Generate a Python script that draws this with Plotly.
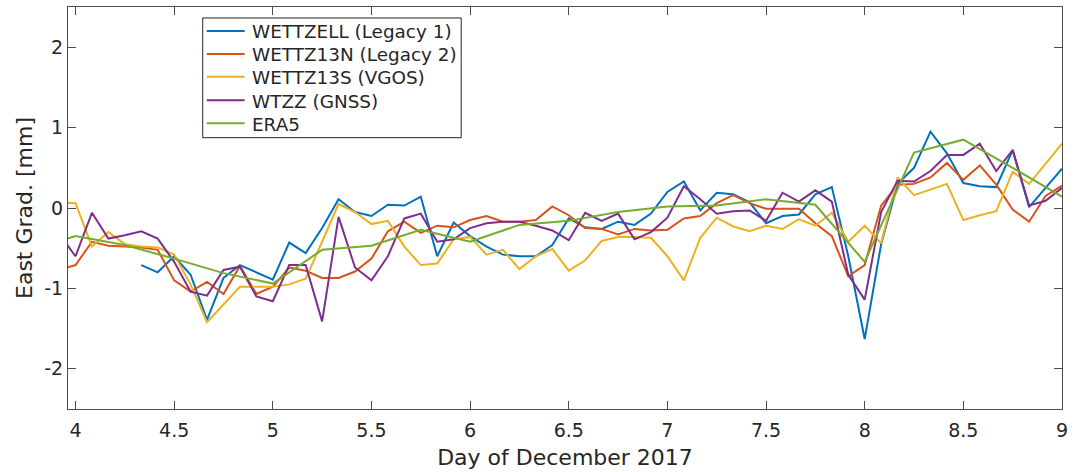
import plotly.graph_objects as go

# hours since 4 Dec 2017 00:00 (2-hourly solutions)
hours = list(range(-2, 121, 2))
hours_wettzell = list(range(8, 121, 2))
hours_era5 = list(range(-6, 121, 6))

wettzell = [-0.71, -0.80, -0.60, -0.83, -1.39, -0.87, -0.71, -0.80, -0.89, -0.43,
            -0.56, -0.25, 0.11, -0.05, -0.10, 0.04, 0.03, 0.14, -0.60, -0.18,
            -0.35, -0.48, -0.58, -0.60, -0.60, -0.46, -0.13, -0.24, -0.26, -0.17,
            -0.21, -0.07, 0.20, 0.33, -0.03, 0.19, 0.17, 0.07, -0.19, -0.10,
            -0.08, 0.17, 0.26, -0.60, -1.63, -0.45, 0.30, 0.50, 0.95, 0.68,
            0.31, 0.27, 0.26, 0.72, 0.01, 0.25, 0.49]

wettz13n = [-0.77, -0.71, -0.42, -0.47, -0.48, -0.49, -0.52, -0.90, -1.04, -0.92,
            -1.07, -0.72, -1.07, -0.98, -0.74, -0.78, -0.87, -0.87, -0.79, -0.63,
            -0.29, -0.17, -0.31, -0.22, -0.24, -0.15, -0.10, -0.17, -0.17, -0.15,
            0.02, -0.09, -0.25, -0.26, -0.33, -0.26, -0.28, -0.27, -0.13, -0.10,
            0.06, 0.16, 0.06, -0.01, -0.01, -0.01, -0.19, -0.35, -0.85, -0.71,
            0.03, 0.29, 0.30, 0.38, 0.56, 0.35, 0.53, 0.29, -0.02, -0.17,
            0.15, 0.28]

wettz13s = [0.07, 0.06, -0.48, -0.30, -0.45, -0.48, -0.49, -0.58, -0.95, -1.42,
            -1.20, -0.98, -0.98, -0.98, -0.95, -0.88, -0.42, 0.05, -0.05, -0.20,
            -0.16, -0.48, -0.71, -0.69, -0.39, -0.36, -0.58, -0.52, -0.76, -0.60,
            -0.51, -0.78, -0.65, -0.41, -0.36, -0.36, -0.37, -0.60, -0.90, -0.37,
            -0.12, -0.23, -0.29, -0.22, -0.26, -0.14, -0.22, -0.06, -0.42, -0.22,
            -0.44, 0.38, 0.16, 0.23, 0.30, -0.15, -0.09, -0.04, 0.45, 0.30,
            0.55, 0.80]

wtzz = [-0.32, -0.60, -0.06, -0.38, -0.34, -0.29, -0.38, -0.67, -1.04, -1.09,
        -0.77, -0.73, -1.10, -1.16, -0.71, -0.71, -1.41, -0.11, -0.74, -0.90,
        -0.60, -0.13, -0.07, -0.42, -0.39, -0.25, -0.19, -0.17, -0.17, -0.22,
        -0.28, -0.40, -0.06, -0.16, -0.07, -0.39, -0.30, -0.12, 0.27, 0.11,
        -0.07, -0.04, -0.03, -0.16, 0.19, 0.08, 0.22, 0.08, -0.83, -1.14,
        -0.05, 0.34, 0.33, 0.46, 0.66, 0.66, 0.80, 0.46, 0.72, 0.03,
        0.09, 0.25]

era5 = [-0.53, -0.35, -0.46, -0.63, -0.81, -0.94, -0.52, -0.47, -0.27, -0.42,
        -0.21, -0.16, -0.05, 0.02, 0.03, 0.11, 0.04, -0.67, 0.69, 0.85,
        0.50, 0.14]

x_ticks = [4, 4.5, 5, 5.5, 6, 6.5, 7, 7.5, 8, 8.5, 9]
x_ticktext = ["4", "4.5", "5", "5.5", "6", "6.5", "7", "7.5", "8", "8.5", "9"]
y_ticks = [-2, -1, 0, 1, 2]
y_ticktext = ["-2", "-1", "0", "1", "2"]

names = ["WETTZELL (Legacy 1)", "WETTZ13N (Legacy 2)", "WETTZ13S (VGOS)", "WTZZ (GNSS)", "ERA5"]
colors = ["#0072BD", "#D95319", "#EDB120", "#7E2F8E", "#77AC30"]
hour_sets = [hours_wettzell, hours, hours, hours, hours_era5]
value_sets = [wettzell, wettz13n, wettz13s, wtzz, era5]

W, H = 1074, 472
ML, MR, MT, MB = 68, 10, 6, 63
PW, PH = W - ML - MR, H - MT - MB

def px2x(p):
    return (p - ML) / PW

def px2y(p):
    return 1 - (p - MT) / PH

def to_day(h):
    return [4 + v / 24 for v in h]

fig = go.Figure()
for name, h, vals, col in zip(names, hour_sets, value_sets, colors):
    fig.add_trace(go.Scatter(x=to_day(h), y=vals, mode="lines", name=name,
                             line=dict(color=col, width=2), showlegend=False))

axcol = "#4d4d4d"
txtcol = "#262626"
font = "DejaVu Sans"

# legend box (drawn manually for MATLAB-like compact spacing)
shapes = [dict(type="rect", xref="paper", yref="paper",
               x0=px2x(203), x1=px2x(462), y0=px2y(137), y1=px2y(17),
               line=dict(color=txtcol, width=1), fillcolor="white", layer="above")]
annotations = []
row_y = [30, 53, 76, 99.5, 122.5]
for name, col, ry in zip(names, colors, row_y):
    shapes.append(dict(type="line", xref="paper", yref="paper",
                       x0=px2x(207), x1=px2x(245), y0=px2y(ry), y1=px2y(ry),
                       line=dict(color=col, width=2), layer="above"))
    annotations.append(dict(xref="paper", yref="paper", x=px2x(250), y=px2y(ry + 1),
                            text=name, showarrow=False, xanchor="left", yanchor="middle",
                            font=dict(family=font, size=18.4, color=txtcol)))

fig.update_layout(
    width=W, height=H,
    margin=dict(l=ML, r=MR, t=MT, b=MB),
    paper_bgcolor="white", plot_bgcolor="white",
    font=dict(family=font, size=19, color=txtcol),
    showlegend=False,
    shapes=shapes,
    annotations=annotations,
    xaxis=dict(range=[3.962, 9], tickvals=x_ticks, ticktext=x_ticktext,
               ticks="inside", ticklen=8, tickcolor=axcol, tickwidth=1,
               ticklabelstandoff=4,
               showline=True, linecolor=axcol, linewidth=1, mirror="ticks",
               showgrid=False, zeroline=False,
               title=dict(text="Day of December 2017", font=dict(size=22), standoff=9)),
    yaxis=dict(range=[-2.5, 2.5], tickvals=y_ticks, ticktext=y_ticktext,
               ticks="inside", ticklen=8, tickcolor=axcol, tickwidth=1,
               showline=True, linecolor=axcol, linewidth=1, mirror="ticks",
               showgrid=False, zeroline=False,
               title=dict(text="East Grad. [mm]", font=dict(size=22), standoff=5)),
)

fig.write_html("out.html")
